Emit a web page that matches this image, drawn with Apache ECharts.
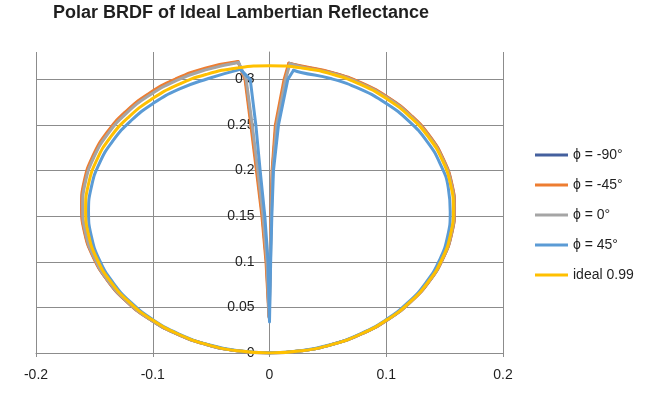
<!DOCTYPE html>
<html>
<head>
<meta charset="utf-8">
<script src="https://cdn.jsdelivr.net/npm/echarts@6/dist/echarts.min.js"></script>
<style>html,body{margin:0;padding:0;background:#fff}#c{width:652px;height:395px}</style>
</head>
<body>
<div id="c"></div>
<script>
var titleText = 'Polar BRDF of Ideal Lambertian Reflectance';
var seriesNames = ['\u03d5 = -90\u00b0', '\u03d5 = -45\u00b0', '\u03d5 = 0\u00b0', '\u03d5 = 45\u00b0', 'ideal 0.99'];
var xTicks = [-0.2, -0.1, 0, 0.1, 0.2];
var yTicks = [0, 0.05, 0.1, 0.15, 0.2, 0.25, 0.3];

var phiM90 = [[0,0],[-0.0279,0.0024],[-0.0549,0.0097],[-0.0803,0.0215],[-0.1032,0.0376],[-0.123,0.0573],[-0.139,0.0803],[-0.1508,0.1056],[-0.1581,0.1326],[-0.1605,0.1605],[-0.1581,0.1884],[-0.1508,0.2154],[-0.139,0.2408],[-0.123,0.2637],[-0.1032,0.2834],[-0.0803,0.2995],[-0.0549,0.3113],[-0.0268,0.319],
  [-0.0205,0.300],[-0.0154,0.250],[-0.0106,0.200],[-0.006,0.150],[-0.0026,0.100],[-0.0003,0.039],[0.0006,0.100],[0.0014,0.150],[0.0025,0.200],[0.0056,0.250],[0.0132,0.300],[0.017,0.3175],
  [0.0275,0.3142],[0.0541,0.307],[0.0792,0.2954],[0.1018,0.2795],[0.1212,0.26],[0.1371,0.2374],[0.1487,0.2124],[0.1559,0.1858],[0.1583,0.1583],[0.1559,0.1308],[0.1487,0.1042],[0.1371,0.0792],[0.1212,0.0565],[0.1018,0.037],[0.0792,0.0212],[0.0541,0.0095],[0.0275,0.0024],[0,0]];

var phiM45 = [[0,0],[-0.028,0.0024],[-0.0551,0.0097],[-0.0805,0.0216],[-0.1035,0.0377],[-0.1233,0.0575],[-0.1394,0.0805],[-0.1513,0.1059],[-0.1586,0.1331],[-0.161,0.161],[-0.1586,0.189],[-0.1513,0.2161],[-0.1394,0.2415],[-0.1233,0.2645],[-0.1035,0.2843],[-0.0805,0.3004],[-0.0551,0.3123],[-0.027,0.3195],
  [-0.021,0.300],[-0.016,0.250],[-0.0112,0.200],[-0.0065,0.150],[-0.003,0.100],[-0.0005,0.040],[0.0005,0.100],[0.0012,0.150],[0.0022,0.200],[0.005,0.250],[0.0125,0.300],[0.0165,0.3177],
  [0.0275,0.3146],[0.0542,0.3074],[0.0793,0.2958],[0.1019,0.2799],[0.1214,0.2604],[0.1373,0.2378],[0.1489,0.2127],[0.1561,0.186],[0.1585,0.1585],[0.1561,0.131],[0.1489,0.1043],[0.1373,0.0793],[0.1214,0.0566],[0.1019,0.0371],[0.0793,0.0212],[0.0542,0.0096],[0.0275,0.0024],[0,0]];

var phi0 = [[0,0],[-0.0278,0.0024],[-0.0547,0.0096],[-0.08,0.0214],[-0.1028,0.0374],[-0.1226,0.0572],[-0.1386,0.08],[-0.1504,0.1053],[-0.1576,0.1322],[-0.16,0.16],[-0.1576,0.1878],[-0.1504,0.2147],[-0.1386,0.24],[-0.1226,0.2628],[-0.1028,0.2826],[-0.08,0.2986],[-0.0547,0.3104],[-0.0265,0.3185],
  [-0.020,0.300],[-0.0148,0.250],[-0.0100,0.200],[-0.0055,0.150],[-0.0022,0.100],[-0.0002,0.038],[0.0008,0.100],[0.0016,0.150],[0.0028,0.200],[0.0062,0.250],[0.0138,0.300],[0.0175,0.3172],
  [0.0274,0.3136],[0.054,0.3065],[0.079,0.2948],[0.1016,0.279],[0.121,0.2596],[0.1368,0.237],[0.1485,0.212],[0.1556,0.1854],[0.158,0.158],[0.1556,0.1306],[0.1485,0.104],[0.1368,0.079],[0.121,0.0564],[0.1016,0.037],[0.079,0.0212],[0.054,0.0095],[0.0274,0.0024],[0,0]];

var phi45 = [[0,0],[-0.0269,0.0024],[-0.053,0.0093],[-0.0775,0.0208],[-0.0996,0.0363],[-0.1187,0.0554],[-0.1342,0.0775],[-0.1457,0.102],[-0.1526,0.1281],[-0.155,0.155],[-0.1526,0.1819],[-0.1457,0.208],[-0.1342,0.2325],[-0.1187,0.2546],[-0.0996,0.2737],[-0.0775,0.2892],[-0.053,0.3007],[-0.025,0.311],
  [-0.0165,0.300],[-0.0117,0.250],[-0.008,0.200],[-0.004,0.150],[-0.0012,0.100],[0,0.034],[0.001,0.100],[0.002,0.150],[0.0034,0.200],[0.0077,0.250],[0.0157,0.300],[0.0206,0.310],
  [0.027,0.3076],[0.0532,0.3006],[0.0778,0.2892],[0.1,0.2736],[0.1191,0.2545],[0.1347,0.2323],[0.1461,0.2077],[0.1531,0.1815],[0.1548,0.1548],[0.1526,0.1281],[0.1457,0.102],[0.1342,0.0775],[0.1187,0.0554],[0.0996,0.0363],[0.0775,0.0208],[0.053,0.0093],[0.0269,0.0024],[0,0]];

var ideal = [[0,0],[-0.0273,0.0024],[-0.0539,0.0095],[-0.0788,0.0211],[-0.1012,0.0369],[-0.1206,0.0563],[-0.1364,0.0788],[-0.148,0.1036],[-0.1551,0.1302],[-0.1575,0.1575],[-0.1551,0.1848],[-0.148,0.2114],[-0.1364,0.2363],[-0.1206,0.2587],[-0.1012,0.2781],[-0.0788,0.2939],[-0.0539,0.3055],[-0.0273,0.3126],[0,0.315],
  [0.0273,0.3126],[0.0539,0.3055],[0.0788,0.2939],[0.1012,0.2781],[0.1206,0.2587],[0.1364,0.2363],[0.148,0.2114],[0.1551,0.1848],[0.1575,0.1575],[0.1551,0.1302],[0.148,0.1036],[0.1364,0.0788],[0.1206,0.0563],[0.1012,0.0369],[0.0788,0.0211],[0.0539,0.0095],[0.0273,0.0024],[0,0]];

var seriesData = [phiM90, phiM45, phi0, phi45];
var colors = ['#44609e', '#ed7d31', '#a5a5a5', '#5b9bd5', '#ffc000'];

var font = 'Liberation Sans, Arial, sans-serif';
var gridLeft = 36, gridRight = 149, chartW = 652;
function lineSeries(name, data, color, smooth) {
  return {
    name: name, type: 'line', data: data, zlevel: 1, z: 10,
    showSymbol: false, symbol: 'none', smooth: smooth,
    lineStyle: {width: 3, color: color, cap: 'round', join: 'round'},
    itemStyle: {color: color}
  };
}
var series = [];
seriesData.forEach(function (d, i) {
  // left arc (smooth), specular dip (sharp), right arc (smooth)
  series.push(lineSeries(seriesNames[i], d.slice(0, 18), colors[i], 0.5));
  series.push(lineSeries(seriesNames[i], d.slice(17, 30), colors[i], false));
  series.push(lineSeries(seriesNames[i], d.slice(29), colors[i], 0.5));
});
series.push(lineSeries(seriesNames[4], ideal, colors[4], 0.5));

// the vertical axis sits at x = 0, the middle of the symmetric x range
var yAxisOffset = -(chartW - gridLeft - gridRight) / 2;

var chart = echarts.init(document.getElementById('c'), null, {renderer: 'canvas'});
chart.setOption({
  animation: false,
  backgroundColor: '#fff',
  color: colors,
  title: {
    text: titleText, left: 48, top: -1,
    textStyle: {fontFamily: font, fontWeight: 'bold', fontSize: 18, color: '#1f1f1f'}
  },
  legend: {
    orient: 'vertical', left: 530, top: 142,
    icon: 'rect', itemWidth: 33, itemHeight: 3, itemGap: 14,
    textStyle: {fontFamily: font, fontSize: 14, color: '#1f1f1f', lineHeight: 16},
    data: seriesNames
  },
  grid: {left: gridLeft, right: gridRight, top: 52, bottom: 42, containLabel: false},
  xAxis: {
    type: 'value', min: xTicks[0], max: xTicks[xTicks.length - 1], interval: 0.1, z: 0,
    axisLine: {onZero: false, lineStyle: {color: '#8c8c8c', width: 1}},
    axisTick: {show: true, length: 4, lineStyle: {color: '#8c8c8c'}},
    axisLabel: {fontFamily: font, fontSize: 14, color: '#1f1f1f', margin: 15},
    splitLine: {show: true, lineStyle: {color: '#8c8c8c', width: 1}}
  },
  yAxis: {
    type: 'value', min: yTicks[0], max: 0.33, interval: 0.05, z: 0,
    position: 'left', offset: yAxisOffset,
    axisLine: {show: true, onZero: false, lineStyle: {color: '#8c8c8c', width: 1}},
    axisTick: {show: false},
    axisLabel: {fontFamily: font, fontSize: 14, color: '#1f1f1f', margin: 15, showMaxLabel: false},
    splitLine: {show: true, showMaxLine: false, lineStyle: {color: '#8c8c8c', width: 1}}
  },
  series: series
});
</script>
</body>
</html>
